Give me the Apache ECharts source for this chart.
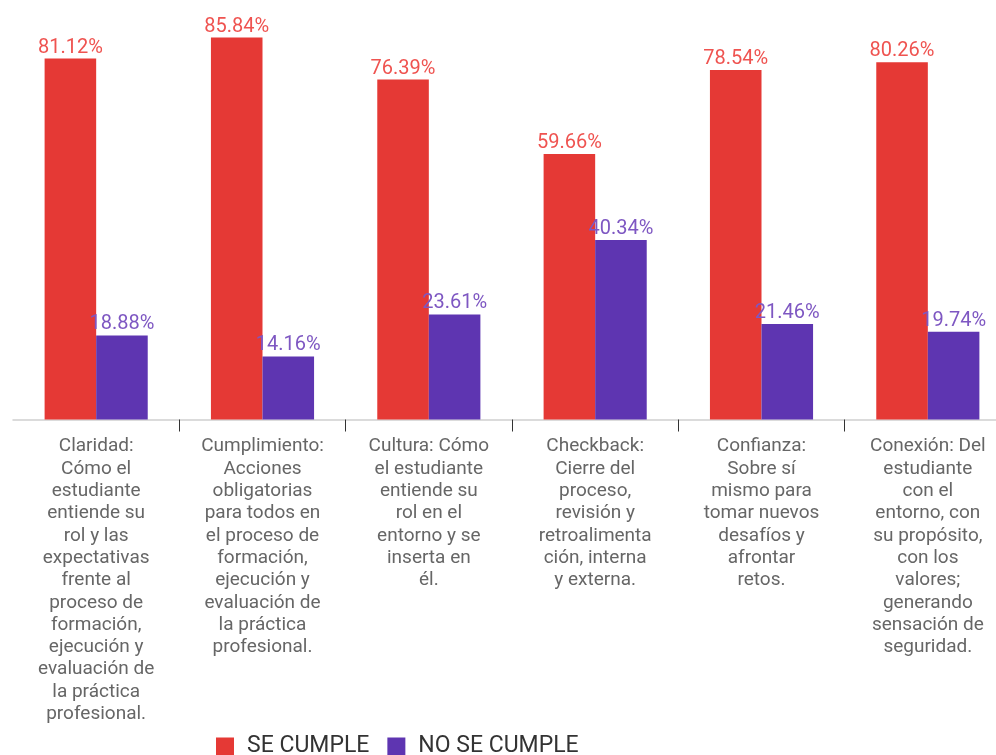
<!DOCTYPE html>
<html>
<head>
<meta charset="utf-8">
<script src="https://cdn.jsdelivr.net/npm/echarts@6/dist/echarts.min.js"></script>
<style>html,body{margin:0;padding:0;background:#fff}#c{width:996px;height:755px}</style>
</head>
<body>
<div id="c"></div>
<script>
var categories = [
  "Claridad:\nCómo el\nestudiante\nentiende su\nrol y las\nexpectativas\nfrente al\nproceso de\nformación,\nejecución y\nevaluación de\nla práctica\nprofesional.",
  "Cumplimiento:\nAcciones\nobligatorias\npara todos en\nel proceso de\nformación,\nejecución y\nevaluación de\nla práctica\nprofesional.",
  "Cultura: Cómo\nel estudiante\nentiende su\nrol en el\nentorno y se\ninserta en\nél.",
  "Checkback:\nCierre del\nproceso,\nrevisión y\nretroalimenta\nción, interna\ny externa.",
  "Confianza:\nSobre sí\nmismo para\ntomar nuevos\ndesafíos y\nafrontar\nretos.",
  "Conexión: Del\nestudiante\ncon el\nentorno, con\nsu propósito,\ncon los\nvalores;\ngenerando\nsensación de\nseguridad."
];
var seCumple = [81.12, 85.84, 76.39, 59.66, 78.54, 80.26];
var noSeCumple = [18.88, 14.16, 23.61, 40.34, 21.46, 19.74];
var seriesNames = ["SE CUMPLE", "NO SE CUMPLE"];

var chart = echarts.init(document.getElementById('c'));
var fontFamily = 'Roboto';
chart.setOption({
  animation: false,
  textStyle: { fontFamily: fontFamily },
  grid: { left: 13, width: 998, top: 19, bottom: 335.5, containLabel: false, outerBoundsMode: 'none' },
  legend: {
    data: seriesNames,
    left: 211,
    top: 730,
    icon: 'rect',
    itemWidth: 18,
    itemHeight: 18,
    itemGap: 18,
    textStyle: { fontSize: 23, color: '#333', fontFamily: fontFamily, padding: [0, 0, 0, 8] }
  },
  xAxis: {
    type: 'category',
    data: categories,
    axisLine: { lineStyle: { color: '#d0d0d0', width: 1.5 } },
    axisTick: { show: true, length: 12, lineStyle: { color: '#333' }, interval: function (i) { return i > 0; } },
    axisLabel: { interval: 0, margin: 16, fontSize: 19, lineHeight: 22.3, color: '#666', fontFamily: fontFamily, align: 'center' }
  },
  yAxis: {
    type: 'value', min: 0, max: 90, show: false,
    splitLine: { show: false }
  },
  series: [
    {
      name: seriesNames[0], type: 'bar', data: seCumple,
      barWidth: '31%', barGap: '0%',
      itemStyle: { color: '#E53935' },
      label: { show: true, position: 'top', distance: 1, fontSize: 20, color: '#EF5350', fontFamily: fontFamily,
        formatter: function (p) { return p.value.toFixed(2) + '%'; } }
    },
    {
      name: seriesNames[1], type: 'bar', data: noSeCumple,
      barWidth: '31%', barGap: '0%',
      itemStyle: { color: '#5E35B1' },
      label: { show: true, position: 'top', distance: 1, fontSize: 20, color: '#7E57C2', fontFamily: fontFamily,
        formatter: function (p) { return p.value.toFixed(2) + '%'; } }
    }
  ]
});
</script>
</body>
</html>
